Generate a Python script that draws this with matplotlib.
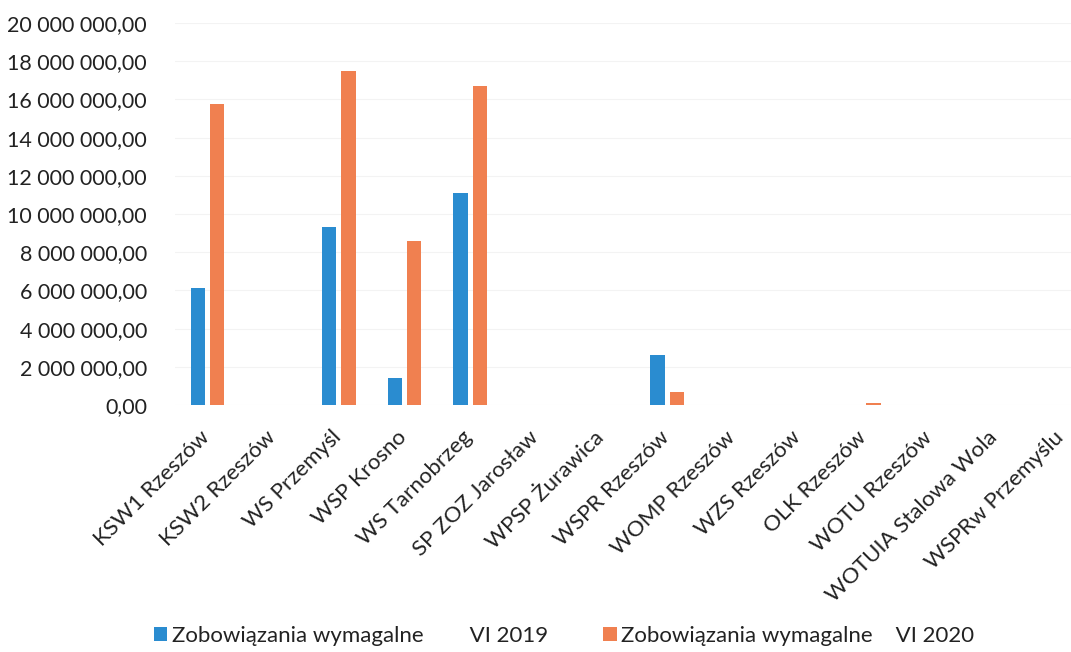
import matplotlib
matplotlib.use("Agg")
import matplotlib.pyplot as plt
import matplotlib.transforms as mtransforms
import numpy as np
from matplotlib.ticker import FuncFormatter

categories = ["KSW1 Rzeszów", "KSW2 Rzeszów", "WS Przemyśl", "WSP Krosno", "WS Tarnobrzeg",
              "SP ZOZ Jarosław", "WPSP Żurawica", "WSPR Rzeszów", "WOMP Rzeszów", "WZS Rzeszów",
              "OLK Rzeszów", "WOTU Rzeszów", "WOTUIA Stalowa Wola", "WSPRw Przemyślu"]
vi_2019 = [6_110_000, 0, 9_340_000, 1_430_000, 11_120_000, 0, 0, 2_620_000, 0, 0, 0, 0, 0, 0]
vi_2020 = [15_760_000, 0, 17_500_000, 8_600_000, 16_720_000, 0, 0, 660_000, 0, 0, 120_000, 0, 0, 0]
series_names = ["Zobowiązania wymagalne        VI 2019", "Zobowiązania wymagalne    VI 2020"]
yticks = list(range(0, 20_000_001, 2_000_000))

plt.rcParams['font.family'] = ['Lato', 'DejaVu Sans']
TXT = "#222222"

fig = plt.figure(figsize=(10.71, 6.52), dpi=100)
ax = fig.add_axes([174.7 / 1071, 1 - 405 / 652, 919.1 / 1071, (405 - 23) / 652])

x = np.arange(len(categories))
w = 0.218
off = 0.146
b1 = ax.bar(x - off, vi_2019, width=w, color="#2a8cd0", label=series_names[0])
b2 = ax.bar(x + off, vi_2020, width=w, color="#f08050", label=series_names[1])

ax.set_xlim(-0.5, len(categories) - 0.5)
ax.set_ylim(0, 20_000_000)
ax.set_yticks(yticks)
ax.yaxis.set_major_formatter(FuncFormatter(lambda v, p: f"{v:,.2f}".replace(",", " ").replace(".", ",")))
ax.grid(axis="y", color="#f3f3f3", linewidth=0.8)
ax.set_axisbelow(True)
for s in ax.spines.values():
    s.set_visible(False)
ax.tick_params(axis="y", length=0, pad=20, labelsize=15.5, labelcolor=TXT)
ax.tick_params(axis="x", length=0, pad=16, labelsize=16, labelcolor=TXT)
ax.set_xticks(x)
ax.set_xticklabels(categories, rotation=45, ha="right", rotation_mode="anchor")
shift = mtransforms.ScaledTranslation(-8 / 100, 0, fig.dpi_scale_trans)
for lbl in ax.get_xticklabels():
    lbl.set_transform(lbl.get_transform() + shift)

fig.legend(handles=[b1, b2], labels=series_names, loc="center", bbox_to_anchor=(564 / 1071, 1 - 636 / 652),
           ncol=2, frameon=False, fontsize=16, handlelength=0.6, handleheight=0.6,
           handletextpad=0.2, columnspacing=2.5, labelcolor=TXT)

fig.savefig("out.png", dpi=100)
